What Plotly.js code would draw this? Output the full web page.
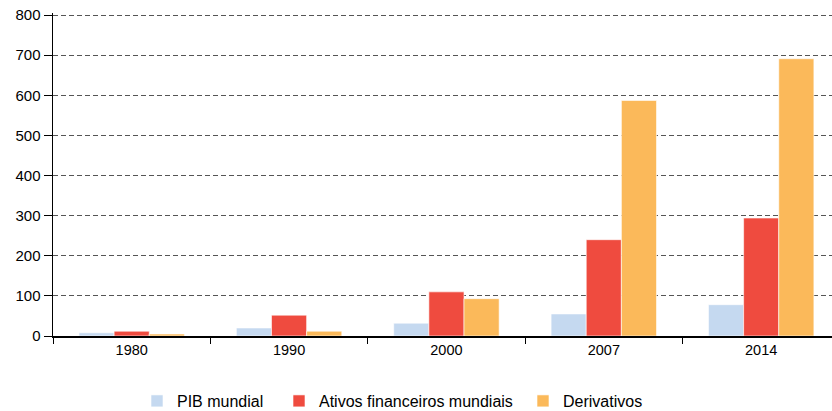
<!DOCTYPE html>
<html><head><meta charset="utf-8">
<script src="https://cdn.plot.ly/plotly-3.0.1.min.js"></script>
<style>html,body{margin:0;padding:0;background:#fff}#c{width:832px;height:411px}</style>
</head><body><div id="c"></div>
<script>
const years = ["1980", "1990", "2000", "2007", "2014"];
const pib = [8, 20, 32, 55, 78];
const ativos = [12, 52, 110, 240, 294];
const derivativos = [5, 12, 93, 587, 691];
const seriesNames = ["PIB mundial", "Ativos financeiros mundiais", "Derivativos"];
const colors = ["#c5d9f0", "#ef4b3f", "#fbb95a"];
const yTicks = [0, 100, 200, 300, 400, 500, 600, 700, 800];

const vals = [pib, ativos, derivativos];
const legendIds = ["legend", "legend2", "legend3"];
const traces = vals.map((v, i) => ({
  type: "bar", x: years, y: v, name: seriesNames[i],
  marker: {color: colors[i], line: {color: "rgba(255,255,255,0.6)", width: 1}},
  legend: legendIds[i], hoverinfo: "x+y+name"
}));

const legendBase = {orientation: "h", xanchor: "left", yanchor: "middle",
  xref: "container", yref: "container", y: 1 - 401 / 411,
  font: {family: "Liberation Sans, Arial, sans-serif", size: 16, color: "#000"},
  bgcolor: "rgba(0,0,0,0)", itemwidth: 30, tracegroupgap: 0};
const W = 832;
function lx(px) { return px / W; }

const layout = {
  width: 832, height: 411,
  margin: {l: 53, r: 0, t: 13, b: 75, pad: 0, autoexpand: false},
  paper_bgcolor: "#fff", plot_bgcolor: "#fff",
  font: {family: "Liberation Sans, Arial, sans-serif", size: 15, color: "#000"},
  barmode: "group", bargap: 0.33, bargroupgap: 0,
  showlegend: true,
  xaxis: {type: "category", range: [-0.5, 4.45], tickson: "boundaries", ticks: "outside",
    ticklen: 6, tickcolor: "#000", showline: true, linecolor: "#000", linewidth: 1.5,
    showgrid: false, zeroline: false, tickfont: {size: 14.5}, fixedrange: true, automargin: false},
  yaxis: {range: [0, 805], tickvals: yTicks, ticks: "outside", ticklen: 8, tickcolor: "#000",
    showline: true, linecolor: "#000", linewidth: 1.5, showgrid: true, gridcolor: "#555",
    griddash: "5px,3px", gridwidth: 1, zeroline: false, tickfont: {size: 15}, fixedrange: true,
    automargin: false, ticklabelstandoff: 0},
  legend: Object.assign({}, legendBase, {x: lx(137)}),
  legend2: Object.assign({}, legendBase, {x: lx(279)}),
  legend3: Object.assign({}, legendBase, {x: lx(523)})
};
Plotly.newPlot("c", traces, layout, {displayModeBar: false, staticPlot: true});
</script></body></html>
